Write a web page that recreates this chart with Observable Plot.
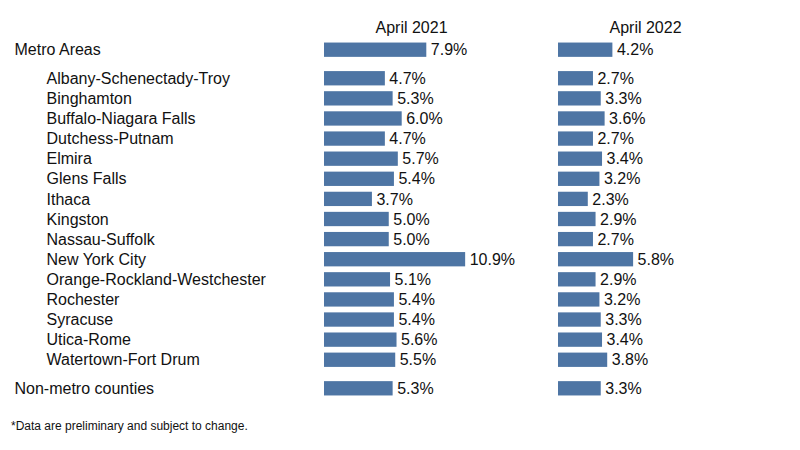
<!DOCTYPE html>
<html>
<head>
<meta charset="utf-8">
<script src="https://cdn.jsdelivr.net/npm/d3@7"></script>
<script src="https://cdn.jsdelivr.net/npm/@observablehq/plot@0.6"></script>
<style>
  html, body { margin: 0; padding: 0; background: #fff; }
  #wrap { position: relative; width: 800px; height: 450px; font-family: "Liberation Sans", Arial, sans-serif; color: #000; }
  #note { position: absolute; left: 11px; top: 419px; font-size: 12px; line-height: 14px; color: #111; }
</style>
</head>
<body>
<div id="wrap">
  <div id="chart"></div>
  <div id="note">*Data are preliminary and subject to change.</div>
</div>
<script>
const areas = [
  "Metro Areas",
  "Albany-Schenectady-Troy", "Binghamton", "Buffalo-Niagara Falls", "Dutchess-Putnam",
  "Elmira", "Glens Falls", "Ithaca", "Kingston", "Nassau-Suffolk", "New York City",
  "Orange-Rockland-Westchester", "Rochester", "Syracuse", "Utica-Rome", "Watertown-Fort Drum",
  "Non-metro counties"
];
// group: 0 = metro total, 1 = individual metros, 2 = non-metro total
const groups = [0, 1,1,1,1,1,1,1,1,1,1,1,1,1,1,1, 2];
const years = [2021, 2022];
const headers = ["April 2021", "April 2022"];
const rate2021 = [7.9, 4.7, 5.3, 6.0, 4.7, 5.7, 5.4, 3.7, 5.0, 5.0, 10.9, 5.1, 5.4, 5.4, 5.6, 5.5, 5.3];
const rate2022 = [4.2, 2.7, 3.3, 3.6, 2.7, 3.4, 3.2, 2.3, 2.9, 2.7, 5.8, 2.9, 3.2, 3.3, 3.4, 3.8, 3.3];

const groupGap = 0.42;
const rows = areas.map((name, i) => ({name, group: groups[i], pos: i + groupGap * groups[i]}));
const maxPos = d3.max(rows, d => d.pos);
const series = [rate2021, rate2022];
const data = years.flatMap((year, j) => rows.map((r, i) => ({...r, year, value: series[j][i]})));
const headerData = years.map((year, j) => ({year, label: headers[j]}));
const half = 0.356;

const chart = Plot.plot({
  width: 800,
  height: 410,
  marginLeft: 324,
  marginRight: 8,
  marginTop: 30,
  marginBottom: 10,
  style: {fontFamily: "Liberation Sans, Arial, sans-serif", fontSize: "16px", color: "#000", background: "#fff"},
  fx: {domain: years, padding: 0, axis: null},
  x: {domain: [0, 18.07], axis: null},
  y: {domain: [0, maxPos], range: [49.7, 388.3], axis: null},
  marks: [
    Plot.rect(data, {fx: "year", x1: 0, x2: "value", y1: d => d.pos - half, y2: d => d.pos + half, fill: "#4e75a4"}),
    Plot.text(data, {fx: "year", x: "value", y: "pos", text: d => d.value.toFixed(1) + "%", textAnchor: "start", dx: 4, fontSize: 16, fill: "#111"}),
    Plot.text(headerData, {fx: "year", text: "label", frameAnchor: "top", dx: -30, dy: -9, fontSize: 16, fill: "#111"}),
    Plot.text(rows.filter(d => d.group !== 1), {fx: () => years[0], y: "pos", text: "name", frameAnchor: "left", textAnchor: "start", dx: -310, fontSize: 16, fill: "#111"}),
    Plot.text(rows.filter(d => d.group === 1), {fx: () => years[0], y: "pos", text: "name", frameAnchor: "left", textAnchor: "start", dx: -278, fontSize: 16, fill: "#111"})
  ]
});
document.getElementById("chart").appendChild(chart);
</script>
</body>
</html>
